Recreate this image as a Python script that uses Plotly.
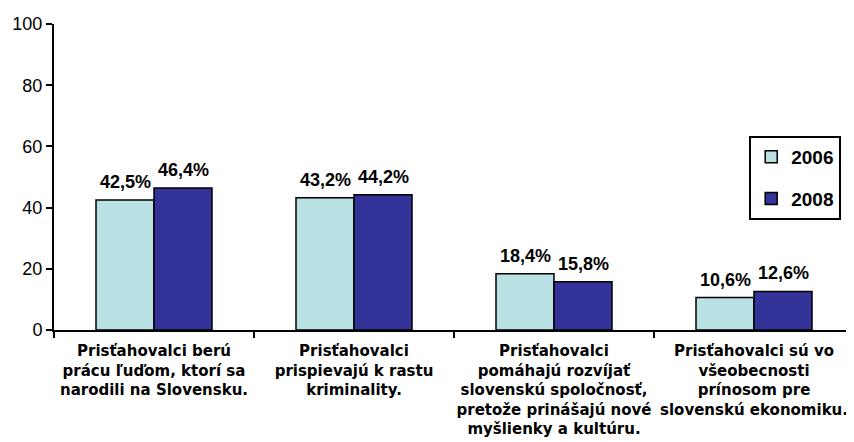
import plotly.graph_objects as go

categories = [
    "Prisťahovalci berú<br>prácu ľuďom, ktorí sa<br>narodili na Slovensku.",
    "Prisťahovalci<br>prispievajú k rastu<br>kriminality.",
    "Prisťahovalci<br>pomáhajú rozvíjať<br>slovenskú spoločnosť,<br>pretože prinášajú nové<br>myšlienky a kultúru.",
    "Prisťahovalci sú vo<br>všeobecnosti<br>prínosom pre<br>slovenskú ekonomiku.",
]
series_names = ["2006", "2008"]
values_2006 = [42.5, 43.2, 18.4, 10.6]
values_2008 = [46.4, 44.2, 15.8, 12.6]
y_ticks = [0, 20, 40, 60, 80, 100]

def fmt(v):
    return f"{v:.1f}".replace(".", ",") + "%"

font = "Liberation Sans, Arial, sans-serif"
wide = "DejaVu Sans, sans-serif"

fig = go.Figure()
fig.add_trace(go.Bar(
    name="<b>" + series_names[0] + "</b>", x=categories, y=values_2006,
    marker=dict(color="#B9E1E3", line=dict(color="black", width=1.5)),
    legendgroup="a",
))
fig.add_trace(go.Bar(
    name="<b>" + series_names[1] + "</b>", x=categories, y=values_2008,
    marker=dict(color="#333399", line=dict(color="black", width=1.5)),
    legendgroup="b",
))

annotations = []
for vals, shift in ((values_2006, -29), (values_2008, 29)):
    for c, v in zip(categories, vals):
        annotations.append(dict(
            x=c, y=v, xref="x", yref="y", text="<b>" + fmt(v) + "</b>",
            showarrow=False, xshift=shift, yanchor="bottom", yshift=6,
            font=dict(family=font, size=18, color="black"),
        ))

# page body has an 8px default margin, so the figure is 8px smaller each way
fig.update_layout(
    width=846, height=434,
    margin=dict(l=46, r=0, t=16, b=112),
    paper_bgcolor="white", plot_bgcolor="white",
    barmode="group", bargap=0.42, bargroupgap=0,
    font=dict(family=font, size=16, color="black"),
    showlegend=True,
    annotations=annotations,
    legend=dict(
        x=0.869, y=0.634, xanchor="left", yanchor="top",
        bgcolor="white", bordercolor="black", borderwidth=2,
        font=dict(family=font, size=19, color="black"),
        tracegroupgap=14, traceorder="grouped",
        itemwidth=30,
    ),
    yaxis=dict(
        range=[0, 100], tickvals=y_ticks, showgrid=False, zeroline=False,
        showline=True, linecolor="black", linewidth=2, automargin=False,
        ticks="outside", ticklen=6, tickcolor="black", tickwidth=1.5,
        tickfont=dict(family=font, size=18, color="black"),
    ),
    xaxis=dict(
        showline=True, linecolor="black", linewidth=2, automargin=False,
        ticks="outside", tickson="boundaries", ticklen=6, tickcolor="black", tickwidth=1.5,
        tickfont=dict(family=wide, size=15, color="black"),
        tickangle=0, ticklabelstandoff=6,
    ),
)
fig.update_xaxes(ticktext=["<b>" + c + "</b>" for c in categories], tickvals=categories)

fig.write_html("out.html")
